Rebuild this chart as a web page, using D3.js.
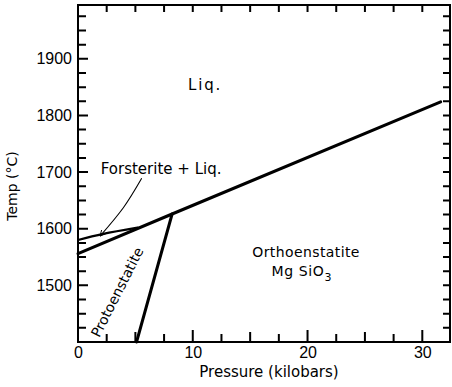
<!DOCTYPE html>
<html>
<head>
<meta charset="utf-8">
<script src="https://cdn.jsdelivr.net/npm/d3@7"></script>
<style>
  html, body { margin: 0; padding: 0; background: #fff; }
  svg { display: block; }
</style>
</head>
<body>
<svg id="chart" width="452" height="387"></svg>
<script>
// Phase boundaries in the MgSiO3 system, pressure (kbar) vs temperature (°C)
const pressureTicks = [0, 10, 20, 30];
const tempTicks = [1500, 1600, 1700, 1800, 1900];

// melting curve of enstatite (protoenstatite below ~8 kbar, orthoenstatite above)
const enstatiteLiquidus = [[0, 1556], [8.2, 1626], [31.6, 1824]];
// upper limit of the forsterite + liquid field
const forsteriteLiquidus = [[0, 1580], [2.2, 1591], [5.2, 1602]];
// protoenstatite / orthoenstatite transition
const protoOrthoBoundary = [[5.1, 1400], [8.2, 1626]];
// leader from the "Forsterite + Liq." label into its field
const leaderLine = [[5.55, 1689], [3.95, 1637], [1.92, 1587]];

const svg = d3.select("#chart");
const ink = "#000";

const x = d3.scaleLinear().domain([0, 32.5]).range([78, 451]);
const y = d3.scaleLinear().domain([1400, 1995]).range([342, 5]);
const [p0, p1] = x.domain();
const [t0, t1] = y.domain();

const minorP = d3.range(2.5, 32.4, 2.5);
const minorT = d3.range(1425, 1994, 25);

// frame plus inward tick marks on all four sides, one path
const frameL = x(p0), frameR = x(p1) - 1, frameT = y(t1), frameB = y(t0);
const fp = d3.path();
fp.moveTo(frameL, frameT); fp.lineTo(frameR, frameT); fp.lineTo(frameR, frameB);
fp.lineTo(frameL, frameB); fp.closePath();
minorP.forEach(d => {
  const len = d % 10 === 0 ? 12 : d % 5 === 0 ? 10 : 8;
  fp.moveTo(x(d), frameB); fp.lineTo(x(d), frameB - len);
  fp.moveTo(x(d), frameT); fp.lineTo(x(d), frameT + 7);
});
minorT.forEach(d => {
  const len = d % 100 === 0 ? 10 : 8;
  fp.moveTo(frameL, y(d)); fp.lineTo(frameL + len, y(d));
  fp.moveTo(frameR, y(d)); fp.lineTo(frameR - 7, y(d));
});
svg.append("path")
  .attr("d", fp.toString())
  .attr("fill", "none")
  .attr("stroke", ink)
  .attr("stroke-width", 2);

// tick labels through d3 axes (domain and tick lines hidden)
const tickFont = "Liberation Sans, Arial, sans-serif";
svg.append("g").attr("transform", `translate(0,${frameB})`)
  .call(d3.axisBottom(x).tickValues(pressureTicks).tickSize(0).tickPadding(5).tickFormat(d3.format("d")))
  .call(g => g.select(".domain").remove())
  .call(g => g.selectAll(".tick text")
    .attr("font-family", tickFont).attr("font-size", 16).attr("fill", ink));
svg.append("g").attr("transform", `translate(${frameL},0)`)
  .call(d3.axisLeft(y).tickValues(tempTicks).tickSize(0).tickPadding(6).tickFormat(d3.format("d")))
  .call(g => g.select(".domain").remove())
  .call(g => g.selectAll(".tick text")
    .attr("font-family", tickFont).attr("font-size", 16).attr("fill", ink));

// axis titles
svg.append("text")
  .attr("x", 269).attr("y", 377)
  .attr("text-anchor", "middle")
  .attr("font-family", "DejaVu Sans, sans-serif")
  .attr("font-size", 15).attr("fill", ink)
  .text("Pressure (kilobars)");

svg.append("text")
  .attr("transform", "translate(17,186) rotate(-90)")
  .attr("text-anchor", "middle")
  .attr("font-family", "DejaVu Sans, sans-serif")
  .attr("font-size", 14).attr("fill", ink)
  .text("Temp (°C)");

// phase boundaries
const line = d3.line().x(d => x(d[0])).y(d => y(d[1]));
const curve = d3.line().x(d => x(d[0])).y(d => y(d[1])).curve(d3.curveNatural);

svg.append("path").datum(enstatiteLiquidus)
  .attr("d", line).attr("fill", "none").attr("stroke", ink)
  .attr("stroke-width", 3).attr("stroke-linecap", "round");
svg.append("path").datum(forsteriteLiquidus)
  .attr("d", curve).attr("fill", "none").attr("stroke", ink)
  .attr("stroke-width", 2.2).attr("stroke-linecap", "round");
svg.append("path").datum(protoOrthoBoundary)
  .attr("d", line).attr("fill", "none").attr("stroke", ink)
  .attr("stroke-width", 3).attr("stroke-linecap", "round");

// leader with small arrow head
svg.append("defs").append("marker")
  .attr("id", "head").attr("viewBox", "0 0 10 10")
  .attr("refX", 9).attr("refY", 5)
  .attr("markerWidth", 7).attr("markerHeight", 7)
  .attr("markerUnits", "userSpaceOnUse")
  .attr("orient", "auto")
  .append("path").attr("d", "M1,1 L9,5 L1,9")
  .attr("fill", "none").attr("stroke", ink).attr("stroke-width", 1.3);

svg.append("path").datum(leaderLine)
  .attr("d", curve).attr("fill", "none").attr("stroke", ink)
  .attr("stroke-width", 1.1).attr("marker-end", "url(#head)");

// field labels
const labelFont = "DejaVu Sans, sans-serif";
svg.append("text")
  .attr("x", x(11.07)).attr("y", y(1845))
  .attr("text-anchor", "middle")
  .attr("font-family", labelFont).attr("font-size", 15).attr("fill", ink)
  .attr("letter-spacing", 1.8)
  .text("Liq.");

svg.append("text")
  .attr("x", x(1.98)).attr("y", y(1697))
  .attr("font-family", labelFont).attr("font-size", 15).attr("fill", ink)
  .text("Forsterite + Liq.");

svg.append("text")
  .attr("x", x(19.87)).attr("y", y(1550))
  .attr("text-anchor", "middle")
  .attr("font-family", labelFont).attr("font-size", 14).attr("fill", ink)
  .attr("letter-spacing", 0.4)
  .text("Orthoenstatite");

const mg = svg.append("text")
  .attr("x", x(19.5)).attr("y", y(1516))
  .attr("text-anchor", "middle")
  .attr("font-family", labelFont).attr("font-size", 14).attr("fill", ink)
  .attr("letter-spacing", 0.6);
mg.append("tspan").text("Mg SiO");
mg.append("tspan").attr("dy", 5).attr("font-size", 11).text("3");

svg.append("text")
  .attr("transform", `translate(${x(3.42)},${y(1488)}) rotate(-63)`)
  .attr("text-anchor", "middle")
  .attr("dy", "0.35em")
  .attr("font-family", labelFont).attr("font-size", 14).attr("fill", ink)
  .text("Protoenstatite");
</script>
</body>
</html>
